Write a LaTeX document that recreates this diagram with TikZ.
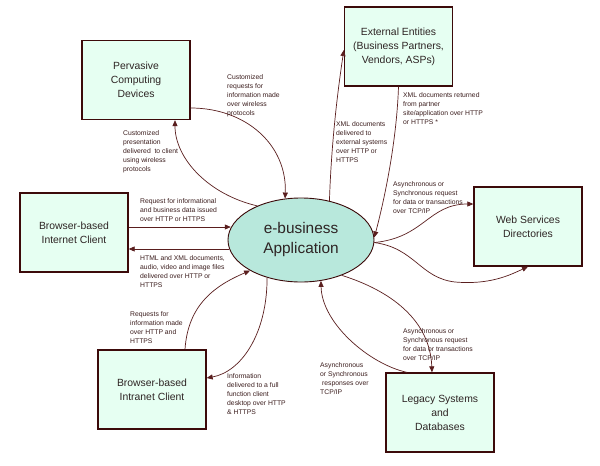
\documentclass[tikz,border=0pt]{standalone}
\usepackage{fontspec}
\setmainfont{Liberation Sans}
\usetikzlibrary{arrows.meta,shapes.geometric}
\definecolor{boxfill}{HTML}{E6FFF2}
\definecolor{ellfill}{HTML}{B8E8DC}
\definecolor{edgec}{HTML}{3C0A0A}
\definecolor{wire}{HTML}{5A1E1E}
\definecolor{lbl}{HTML}{3C1E1E}
\definecolor{txt}{HTML}{2E2424}
\begin{document}
\begin{tikzpicture}[x=1pt,y=-1pt,
 ent/.style={draw=edgec, line width=1.3pt, fill=boxfill, minimum width=108pt, minimum height=79pt, inner sep=0pt, align=center, text=txt, font=\fontsize{10.4}{14}\selectfont},
 core/.style={ellipse, draw=edgec, line width=0.9pt, fill=ellfill, minimum width=146pt, minimum height=84pt, inner sep=0pt, align=center, text=txt, font=\fontsize{15.4}{20}\selectfont},
 arr/.style={draw=wire, line width=0.7pt, -{Triangle[length=6pt,width=5pt]}},
 note/.style={anchor=north west, inner sep=0pt, align=left, text=lbl, font=\fontsize{6.8}{9}\selectfont}]
\useasboundingbox[fill=white] (0,0) rectangle (600,466);

\node[ent] (pc) at (136,80) {Pervasive\\Computing\\Devices};
\node[ent] (ex) at (398.5,46.5) {External Entities\\(Business Partners,\\Vendors, ASPs)};
\node[ent] (bi) at (74,232.5) {Browser-based\\Internet Client};
\node[ent] (ws) at (528,226.5) {Web Services\\Directories};
\node[ent] (ic) at (152,389.5) {Browser-based\\Intranet Client};
\node[ent] (lg) at (440,412.5) {Legacy Systems\\and\\Databases};
\node[core] (app) at (301,240) {e-business\\Application};

\draw[arr] ([yshift=-28pt]pc.east) .. controls +(55,0) and +(2,-54) .. (app.111);
\draw[arr] (app.142) .. controls +(-48,-11) and +(0,39) .. ([xshift=39pt]pc.south);
\draw[arr] ([yshift=5.5pt]bi.east) -- ([yshift=5.5pt]bi.east -| app.170);
\draw[arr] ([yshift=-16.5pt]bi.east -| app.187) -- ([yshift=-16.5pt]bi.east);
\draw[arr] ([xshift=33pt]ic.north) .. controls +(3,-45) and +(-35,15) .. (app.211);
\draw[arr] (app.228) .. controls +(0,57) and +(34,-6) .. ([yshift=11.5pt]ic.east);
\draw[arr] (app.54) .. controls +(2,-60) and +(-6,40) .. ([yshift=-3.5pt]ex.west);
\draw[arr] (ex.south) .. controls +(-2,60) and +(8,-30) .. (app.2);
\draw[arr] (app.-2) .. controls +(50,-5) and +(-45,0) .. ([yshift=22.5pt]ws.west);
\draw[arr] (app.-2) .. controls (415,248) and (420,278) .. (455,282) .. controls (490,285) and (510,275) .. (ws.south);
\draw[arr] (app.-41) .. controls +(48,15) and +(-2,-53) .. ([xshift=-8pt]lg.north);
\draw[arr] ([xshift=-33pt]lg.north) .. controls +(-37,-8) and +(1,43) .. (app.-64);

\node[note] (n1) at (227,74) {Customized\\requests for\\information made\\over wireless\\protocols};
\node[note] (n2) at (123,130) {Customized\\presentation\\delivered\ \ to client\\using wireless\\protocols};
\node[note] (n3) at (336,121) {XML documents\\delivered to\\external systems\\over HTTP or\\HTTPS};
\node[note] (n4) at (403,92) {XML documents returned\\from partner\\site/application over HTTP\\or HTTPS *};
\node[note] (n5) at (140,198) {Request for informational\\and business data issued\\over HTTP or HTTPS};
\node[note] (n6) at (140,255) {HTML and XML documents,\\audio, video and image files\\delivered over HTTP or\\HTTPS};
\node[note] (n7) at (393,181) {Asynchronous or\\Synchronous request\\for data or transactions\\over TCP/IP};
\node[note] (n8) at (130,311) {Requests for\\information made\\over HTTP and\\HTTPS};
\node[note] (n9) at (227,373) {Information\\delivered to a full\\function client\\desktop over HTTP\\\& HTTPS};
\node[note] (n10) at (403,328) {Asynchronous or\\Synchronous request\\for data or transactions\\over TCP/IP};
\node[note] (n11) at (320,362) {Asynchronous\\or Synchronous\\\ responses over\\TCP/IP};
\end{tikzpicture}
\end{document}
